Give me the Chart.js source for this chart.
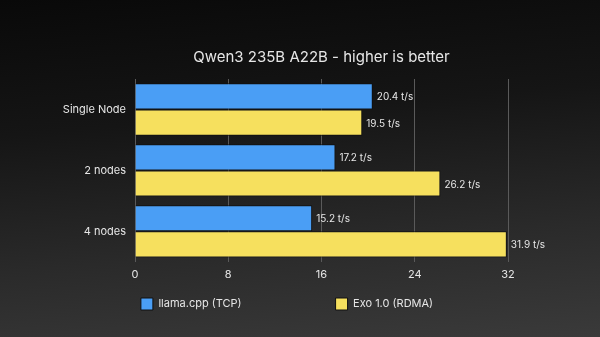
<!DOCTYPE html>
<html>
<head>
<meta charset="utf-8">
<script src="https://cdn.jsdelivr.net/npm/chart.js@4"></script>
<style>
    html, body { margin: 0; padding: 0; }
    body {
        width: 600px;
        height: 337px;
        background: linear-gradient(175deg, #090909 0%, #151515 35%, #2a2a2a 70%, #3a3a3a 100%);
        overflow: hidden;
    }
    #wrap { position: relative; width: 600px; height: 337px; }
</style>
</head>
<body>
<div id="wrap"><canvas id="chart"></canvas></div>
<script>
const categories = ['Single Node', '2 nodes', '4 nodes'];
const seriesNames = ['llama.cpp (TCP)', 'Exo 1.0 (RDMA)'];
const llamaTcp = [20.4, 17.2, 15.2];
const exoRdma = [19.5, 26.2, 31.9];
const xTicks = [0, 8, 16, 24, 32];

const textColor = '#e6e6e6';
const fontFamily = 'Inter, "Noto Sans", sans-serif';

// value labels to the right of each bar
const valueLabels = {
    id: 'valueLabels',
    afterDatasetsDraw(chart) {
        const ctx = chart.ctx;
        ctx.save();
        ctx.font = '10px ' + fontFamily;
        ctx.fillStyle = textColor;
        ctx.textAlign = 'left';
        ctx.textBaseline = 'middle';
        chart.data.datasets.forEach((ds, i) => {
            chart.getDatasetMeta(i).data.forEach((bar, j) => {
                ctx.fillText(ds.data[j].toFixed(1) + ' t/s', bar.x + 4, bar.y + 1);
            });
        });
        ctx.restore();
    }
};

// centre the title over the plot area, put the wide-spaced legend where it sits in the original
const placeBlocks = {
    id: 'placeBlocks',
    afterLayout(chart) {
        const area = chart.chartArea;
        chart.titleBlock.left = area.left;
        chart.titleBlock.right = area.right;
        chart.legend.left = 0;
        chart.legend.right = 574;
        chart.legend.top = 298 - 94;
    }
};

new Chart(document.getElementById('chart'), {
    type: 'bar',
    data: {
        labels: categories,
        datasets: [{
            label: seriesNames[0],
            data: llamaTcp,
            backgroundColor: '#4a9ef5',
            borderColor: '#101010',
            borderWidth: 1,
            barPercentage: 1,
            categoryPercentage: 0.86
        }, {
            label: seriesNames[1],
            data: exoRdma,
            backgroundColor: '#f6e05e',
            borderColor: '#101010',
            borderWidth: 1,
            barPercentage: 1,
            categoryPercentage: 0.86
        }]
    },
    options: {
        indexAxis: 'y',
        responsive: true,
        maintainAspectRatio: false,
        animation: false,
        layout: { padding: { top: 48, right: 0, left: 0, bottom: 18 } },
        scales: {
            x: {
                min: 0,
                max: 32,
                afterBuildTicks: (scale) => { scale.ticks = xTicks.map(v => ({ value: v })); },
                grid: { color: '#5a5a5a', drawTicks: false },
                border: { display: false },
                ticks: { color: textColor, font: { family: fontFamily, size: 11 }, padding: 6 }
            },
            y: {
                afterFit: (scale) => { scale.width = 135; },
                grid: { display: false, drawTicks: false },
                border: { color: '#5a5a5a' },
                ticks: { color: textColor, font: { family: fontFamily, size: 11 }, padding: 9 }
            },
            // empty right-hand axis, only keeps the space right of the plot free
            yRight: {
                type: 'category',
                position: 'right',
                afterFit: (scale) => { scale.width = 92; },
                grid: { display: false, drawTicks: false },
                border: { display: false },
                ticks: { display: false }
            }
        },
        plugins: {
            title: {
                display: true,
                text: 'Qwen3 235B A22B - higher is better',
                color: textColor,
                font: { family: fontFamily, size: 15, weight: 'normal' },
                padding: { top: 0, bottom: 13 }
            },
            legend: {
                position: 'bottom',
                maxHeight: 32,
                labels: {
                    color: textColor,
                    font: { family: fontFamily, size: 11 },
                    boxWidth: 12,
                    boxHeight: 12,
                    padding: 94
                }
            },
            tooltip: { enabled: false }
        }
    },
    plugins: [valueLabels, placeBlocks]
});
</script>
</body>
</html>
